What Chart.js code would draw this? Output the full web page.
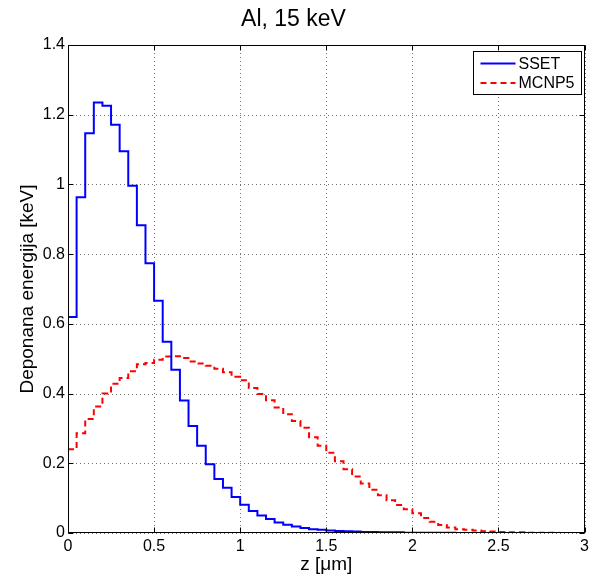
<!DOCTYPE html>
<html>
<head>
<meta charset="utf-8">
<script src="https://cdn.jsdelivr.net/npm/chart.js@4/dist/chart.umd.min.js"></script>
<style>
  html, body { margin: 0; padding: 0; background: #fff; }
  #wrap { width: 593px; height: 579px; }
</style>
</head>
<body>
<div id="wrap"><canvas id="c" width="593" height="579"></canvas></div>
<script>
// Depth bins (µm): left edges of the 0.05 µm slabs, plus the closing edge at 3.0
const binEdges = [
  0.00, 0.05, 0.10, 0.15, 0.20, 0.25, 0.30, 0.35, 0.40, 0.45,
  0.50, 0.55, 0.60, 0.65, 0.70, 0.75, 0.80, 0.85, 0.90, 0.95,
  1.00, 1.05, 1.10, 1.15, 1.20, 1.25, 1.30, 1.35, 1.40, 1.45,
  1.50, 1.55, 1.60, 1.65, 1.70, 1.75, 1.80, 1.85, 1.90, 1.95,
  2.00, 2.05, 2.10, 2.15, 2.20, 2.25, 2.30, 2.35, 2.40, 2.45,
  2.50, 2.55, 2.60, 2.65, 2.70, 2.75, 2.80, 2.85, 2.90, 2.95,
  3.00
];

// Deposited energy per bin (keV), SSET simulation
const ssetEnergy = [
  0.620, 0.963, 1.147, 1.235, 1.226, 1.171, 1.095, 0.996, 0.883, 0.774,
  0.666, 0.549, 0.468, 0.380, 0.307, 0.250, 0.197, 0.155, 0.130, 0.103,
  0.081, 0.063, 0.050, 0.040, 0.030, 0.024, 0.019, 0.014, 0.011, 0.009,
  0.007, 0.006, 0.005, 0.004, 0.003, 0.003, 0.002, 0.002, 0.002, 0.001,
  0.001, 0.001, 0.001, 0.001, 0.001, 0.000, 0.000, 0.000, 0.000, 0.000,
  0.000, 0.000, 0.000, 0.000, 0.000, 0.000, 0.000, 0.000, 0.000, 0.000
];

// Deposited energy per bin (keV), MCNP5 simulation
const mcnpEnergy = [
  0.240, 0.286, 0.327, 0.363, 0.400, 0.428, 0.445, 0.464, 0.484, 0.488,
  0.497, 0.506, 0.507, 0.502, 0.492, 0.486, 0.480, 0.471, 0.461, 0.448,
  0.438, 0.416, 0.399, 0.381, 0.360, 0.341, 0.321, 0.302, 0.275, 0.250,
  0.230, 0.206, 0.183, 0.162, 0.142, 0.124, 0.108, 0.094, 0.080, 0.068,
  0.057, 0.043, 0.032, 0.023, 0.016, 0.011, 0.009, 0.007, 0.005, 0.004,
  0.003, 0.002, 0.002, 0.001, 0.001, 0.001, 0.001, 0.000, 0.000, 0.000
];

const xTicks = [0, 0.5, 1, 1.5, 2, 2.5, 3];
const yTicks = [0, 0.2, 0.4, 0.6, 0.8, 1, 1.2, 1.4];

const seriesNames = ['SSET', 'MCNP5'];
const titleText = 'Al, 15 keV';
const xTitle = 'z [\u03bcm]';
const yTitle = 'Deponana energija [keV]';

const FONT = '"Liberation Sans", Arial, Helvetica, sans-serif';

// Stairs: each bin value held from its left edge to the next edge
function stairs(values) {
  return binEdges.map((x, i) => ({ x: x, y: values[Math.min(i, values.length - 1)] }));
}

// Dotted grid, boxed axes with inward ticks, and an inset legend
const framePlugin = {
  id: 'frame',
  beforeDatasetsDraw(chart) {
    const { ctx, chartArea: a, scales: { x, y } } = chart;
    ctx.save();
    ctx.strokeStyle = 'rgba(0,0,0,0.55)';
    ctx.lineWidth = 1;
    ctx.setLineDash([1, 3]);
    xTicks.forEach(v => {
      const px = Math.round(x.getPixelForValue(v)) + 0.5;
      ctx.beginPath(); ctx.moveTo(px, a.top); ctx.lineTo(px, a.bottom); ctx.stroke();
    });
    yTicks.forEach(v => {
      const py = Math.round(y.getPixelForValue(v)) + 0.5;
      ctx.beginPath(); ctx.moveTo(a.left, py); ctx.lineTo(a.right, py); ctx.stroke();
    });
    ctx.restore();
  },
  afterDatasetsDraw(chart) {
    const { ctx, chartArea: a, scales: { x, y } } = chart;
    ctx.save();
    ctx.strokeStyle = '#000';
    ctx.lineWidth = 1;
    ctx.setLineDash([]);
    const L = Math.round(a.left) + 0.5, R = Math.round(a.right) - 0.5;
    const T = Math.round(a.top) + 0.5, B = Math.round(a.bottom) - 0.5;
    ctx.strokeRect(L, T, R - L, B - T);
    const tk = 5;
    ctx.beginPath();
    xTicks.forEach(v => {
      const px = Math.round(x.getPixelForValue(v)) + 0.5;
      ctx.moveTo(px, B); ctx.lineTo(px, B - tk);
      ctx.moveTo(px, T); ctx.lineTo(px, T + tk);
    });
    yTicks.forEach(v => {
      const py = Math.round(y.getPixelForValue(v)) + 0.5;
      ctx.moveTo(L, py); ctx.lineTo(L + tk, py);
      ctx.moveTo(R, py); ctx.lineTo(R - tk, py);
    });
    ctx.stroke();

    // legend box in the upper right corner
    const lw = 108, lh = 43;
    const lx = Math.round(a.right - 4 - lw) + 0.5;
    const ly = Math.round(a.top + 6) + 0.5;
    ctx.fillStyle = '#fff';
    ctx.fillRect(lx, ly, lw, lh);
    ctx.strokeRect(lx, ly, lw, lh);
    ctx.font = '16px ' + FONT;
    ctx.textBaseline = 'middle';
    ctx.textAlign = 'left';
    chart.data.datasets.forEach((ds, i) => {
      const rowY = ly + 12 + i * 19.5;
      ctx.strokeStyle = ds.borderColor;
      ctx.lineWidth = 2;
      ctx.setLineDash(ds.borderDash || []);
      ctx.beginPath(); ctx.moveTo(lx + 7, rowY); ctx.lineTo(lx + 42, rowY); ctx.stroke();
      ctx.fillStyle = '#000';
      ctx.fillText(ds.label, lx + 45, rowY + 1);
    });
    ctx.restore();
  }
};

new Chart(document.getElementById('c'), {
  type: 'line',
  data: {
    datasets: [
      {
        label: seriesNames[0],
        data: stairs(ssetEnergy),
        stepped: 'before',
        borderColor: '#0000ff',
        borderWidth: 2,
        pointRadius: 0,
        fill: false
      },
      {
        label: seriesNames[1],
        data: stairs(mcnpEnergy),
        stepped: 'before',
        borderColor: '#ff0000',
        borderWidth: 2,
        borderDash: [6, 4],
        pointRadius: 0,
        fill: false
      }
    ]
  },
  options: {
    responsive: false,
    animation: false,
    devicePixelRatio: 1,
    layout: { padding: { left: 0, right: 6, top: 0, bottom: 0 } },
    plugins: {
      legend: { display: false },
      tooltip: { enabled: false },
      title: {
        display: true,
        text: titleText,
        color: '#000',
        font: { family: FONT, size: 23, weight: 'normal' },
        padding: { top: 6, bottom: 11.4 }
      }
    },
    scales: {
      x: {
        type: 'linear',
        min: 0,
        max: 3,
        afterBuildTicks(scale) { scale.ticks = xTicks.map(v => ({ value: v })); },
        afterFit(scale) { scale.height = 46; },
        grid: { display: false, drawTicks: false },
        border: { display: false },
        ticks: {
          color: '#000',
          padding: 4,
          maxRotation: 0,
          font: { family: FONT, size: 16 },
          callback: v => String(v)
        },
        title: {
          display: true,
          text: xTitle,
          color: '#000',
          font: { family: FONT, size: 19 },
          padding: { top: 0, bottom: 2.6 }
        }
      },
      y: {
        type: 'linear',
        min: 0,
        max: 1.4,
        afterBuildTicks(scale) { scale.ticks = yTicks.map(v => ({ value: v })); },
        afterFit(scale) { scale.width = 68; },
        grid: { display: false, drawTicks: false },
        border: { display: false },
        ticks: {
          color: '#000',
          padding: 3,
          font: { family: FONT, size: 16 },
          callback: v => String(v)
        },
        title: {
          display: true,
          text: yTitle,
          color: '#000',
          font: { family: FONT, size: 19 },
          padding: { top: 16.6, bottom: 0 }
        }
      }
    }
  },
  plugins: [framePlugin]
});
</script>
</body>
</html>
